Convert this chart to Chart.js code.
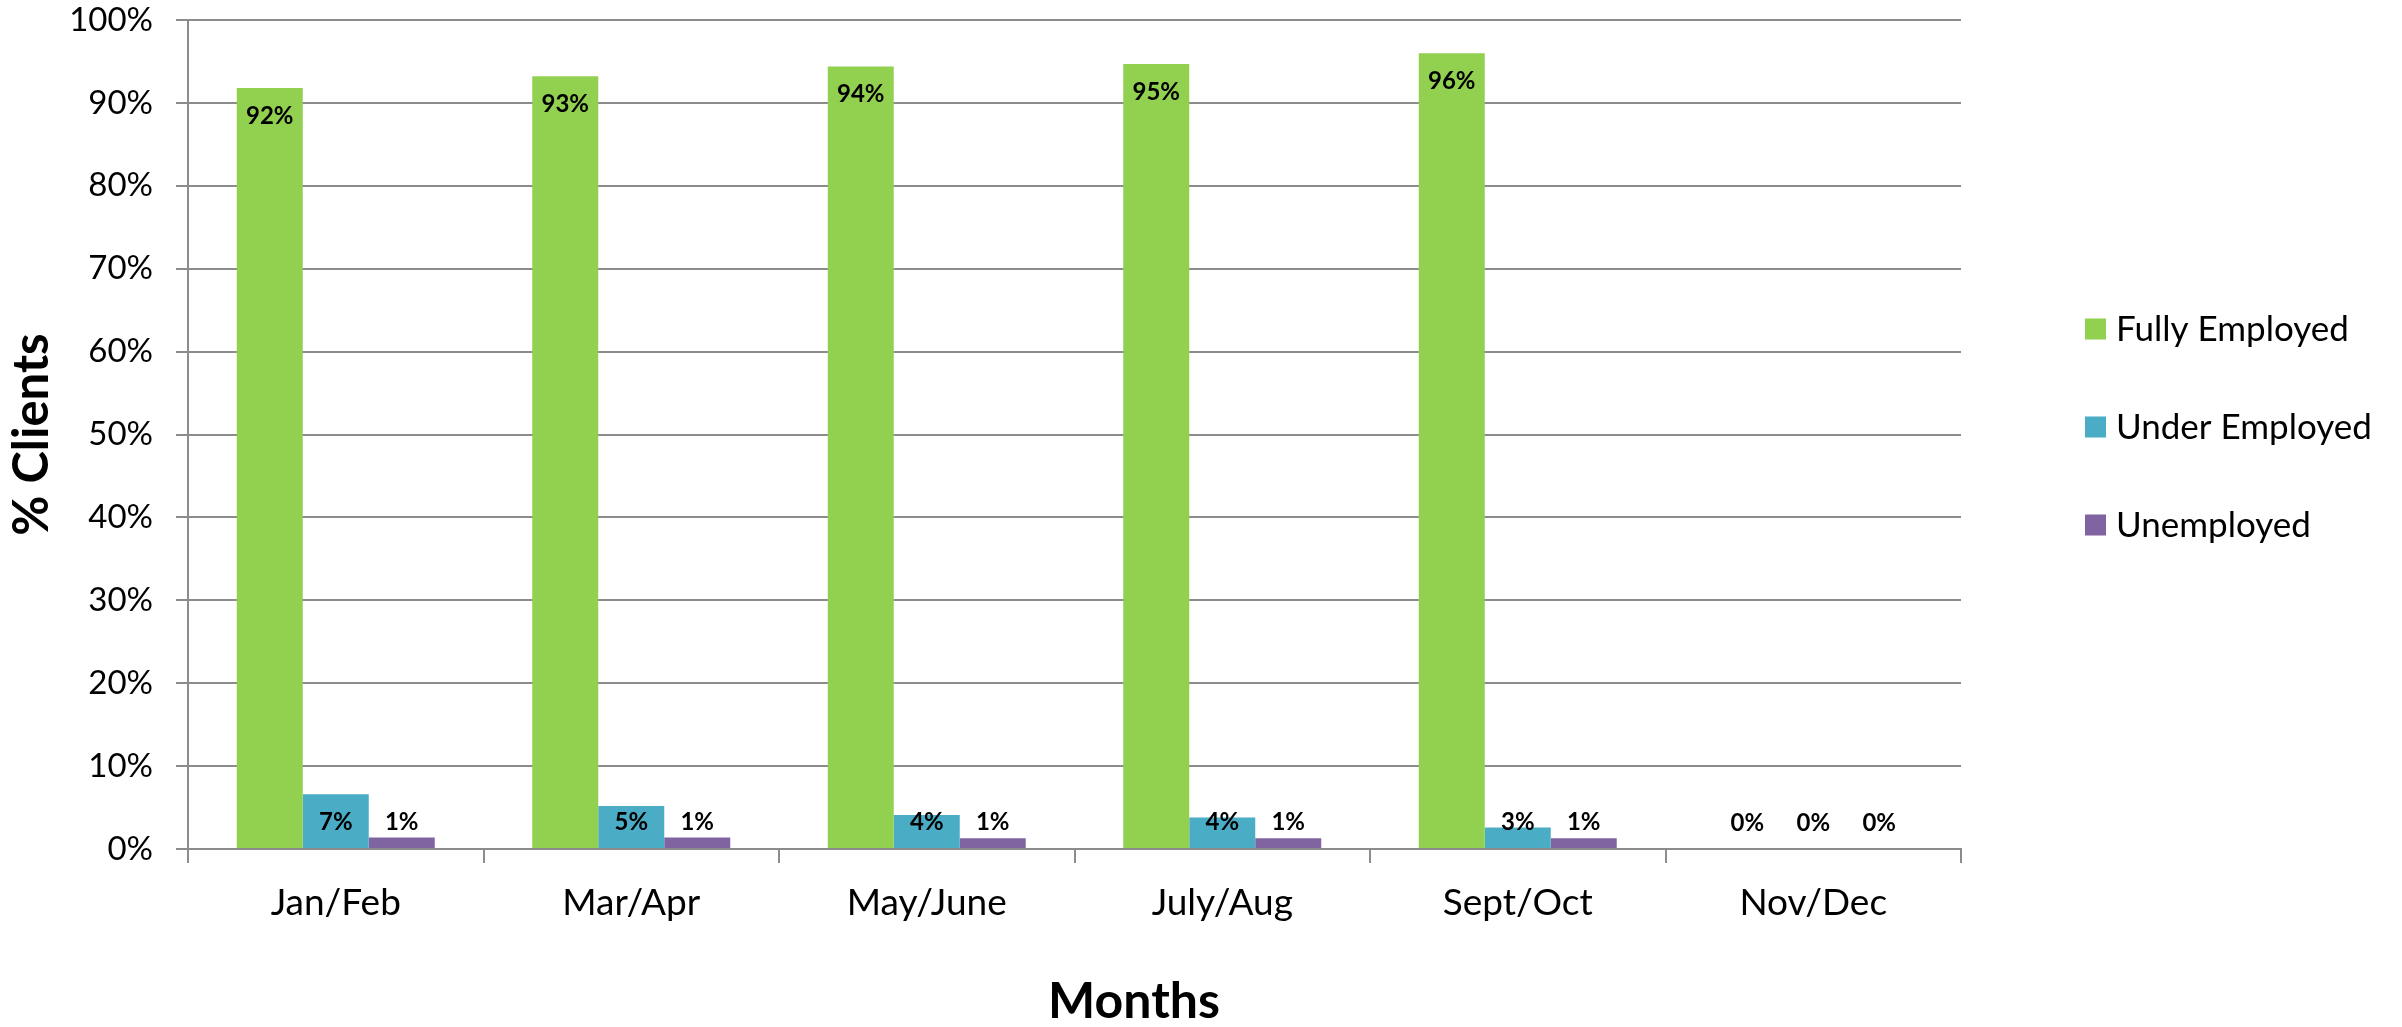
<!DOCTYPE html>
<html>
<head>
<meta charset="utf-8">
<script src="https://cdn.jsdelivr.net/npm/chart.js@4.4.0/dist/chart.umd.min.js"></script>
<style>
  html, body { margin: 0; padding: 0; background: #fff; }
</style>
</head>
<body>
<canvas id="myChart" width="2402" height="1027"></canvas>
<script>
const months = ['Jan/Feb', 'Mar/Apr', 'May/June', 'July/Aug', 'Sept/Oct', 'Nov/Dec'];
const fully_employed = [91.8, 93.2, 94.4, 94.7, 96.0, 0];
const under_employed = [6.6, 5.2, 4.1, 3.8, 2.6, 0];
const unemployed = [1.4, 1.4, 1.3, 1.3, 1.3, 0];
const y_ticks = [0, 10, 20, 30, 40, 50, 60, 70, 80, 90, 100];

const FONT = 'Lato';
const GRID = '#8c8c8c';

// value labels, placed inside the bar top or just above the base when too short
const barLabels = {
  id: 'barLabels',
  afterDatasetsDraw(chart) {
    const ctx = chart.ctx;
    ctx.save();
    ctx.font = `bold 24px ${FONT}`;
    ctx.fillStyle = '#000';
    ctx.textAlign = 'center';
    ctx.textBaseline = 'middle';
    chart.data.datasets.forEach((ds, i) => {
      chart.getDatasetMeta(i).data.forEach((bar, j) => {
        const y = Math.min(bar.y + 28, bar.base - 26);
        ctx.fillText(`${Math.round(ds.data[j])}%`, bar.x, y);
      });
    });
    ctx.restore();
  },
};

// legend on the right + x title (sits off-centre in the original)
const extras = {
  id: 'extras',
  afterDraw(chart) {
    const ctx = chart.ctx;
    const left = chart.chartArea.right + 124;
    ctx.save();
    ctx.font = `35px ${FONT}`;
    ctx.textBaseline = 'middle';
    ctx.textAlign = 'left';
    chart.data.datasets.forEach((ds, i) => {
      const cy = 329 + i * 98;
      ctx.fillStyle = ds.backgroundColor;
      ctx.fillRect(left, cy - 10.5, 21, 21);
      ctx.fillStyle = '#000';
      ctx.fillText(ds.label, left + 31, cy + 1);
    });

    ctx.font = `bold 50px ${FONT}`;
    ctx.textAlign = 'center';
    ctx.fillText('Months', 1134, 1002);
    ctx.restore();
  },
};

const ctx = document.getElementById('myChart').getContext('2d');

const chart = new Chart(ctx, {
  type: 'bar',
  data: {
    labels: months,
    datasets: [
      { label: 'Fully Employed', data: fully_employed, backgroundColor: '#92D050' },
      { label: 'Under Employed', data: under_employed, backgroundColor: '#4BACC6' },
      { label: 'Unemployed', data: unemployed, backgroundColor: '#8064A2' },
    ],
  },
  options: {
    responsive: false,
    animation: false,
    layout: {
      padding: { top: 20, right: 441, left: 0, bottom: 0 },
    },
    datasets: {
      bar: {
        categoryPercentage: 0.67,
        barPercentage: 1.0,
      },
    },
    scales: {
      x: {
        afterFit: (scale) => {
          scale.height = 178;
          scale.paddingTop = 0;
          scale.paddingBottom = 0;
        },
        grid: {
          display: true,
          offset: true,
          drawOnChartArea: false,
          color: GRID,
          lineWidth: 2,
          tickLength: 14,
        },
        border: { display: true, color: GRID, width: 2 },
        ticks: {
          color: '#000',
          font: { family: FONT, size: 37 },
          padding: 18,
        },
      },
      y: {
        min: 0,
        max: 100,
        afterFit: (scale) => {
          scale.width = 188;
          scale.paddingTop = 0;
          scale.paddingBottom = 0;
        },
        afterBuildTicks: (scale) => {
          scale.ticks = y_ticks.map((v) => ({ value: v }));
        },
        grid: {
          color: GRID,
          lineWidth: 2,
          tickLength: 12,
        },
        border: { display: true, color: GRID, width: 2 },
        ticks: {
          color: '#000',
          font: { family: FONT, size: 33 },
          padding: 23,
          callback: (value) => `${value}%`,
        },
        title: {
          display: true,
          text: '% Clients',
          color: '#000',
          font: { family: FONT, size: 49, weight: 'bold', lineHeight: 1 },
          padding: { top: 8, bottom: 0 },
        },
      },
    },
    plugins: {
      legend: { display: false },
      tooltip: { enabled: false },
    },
  },
  plugins: [barLabels, extras],
});
</script>
</body>
</html>
